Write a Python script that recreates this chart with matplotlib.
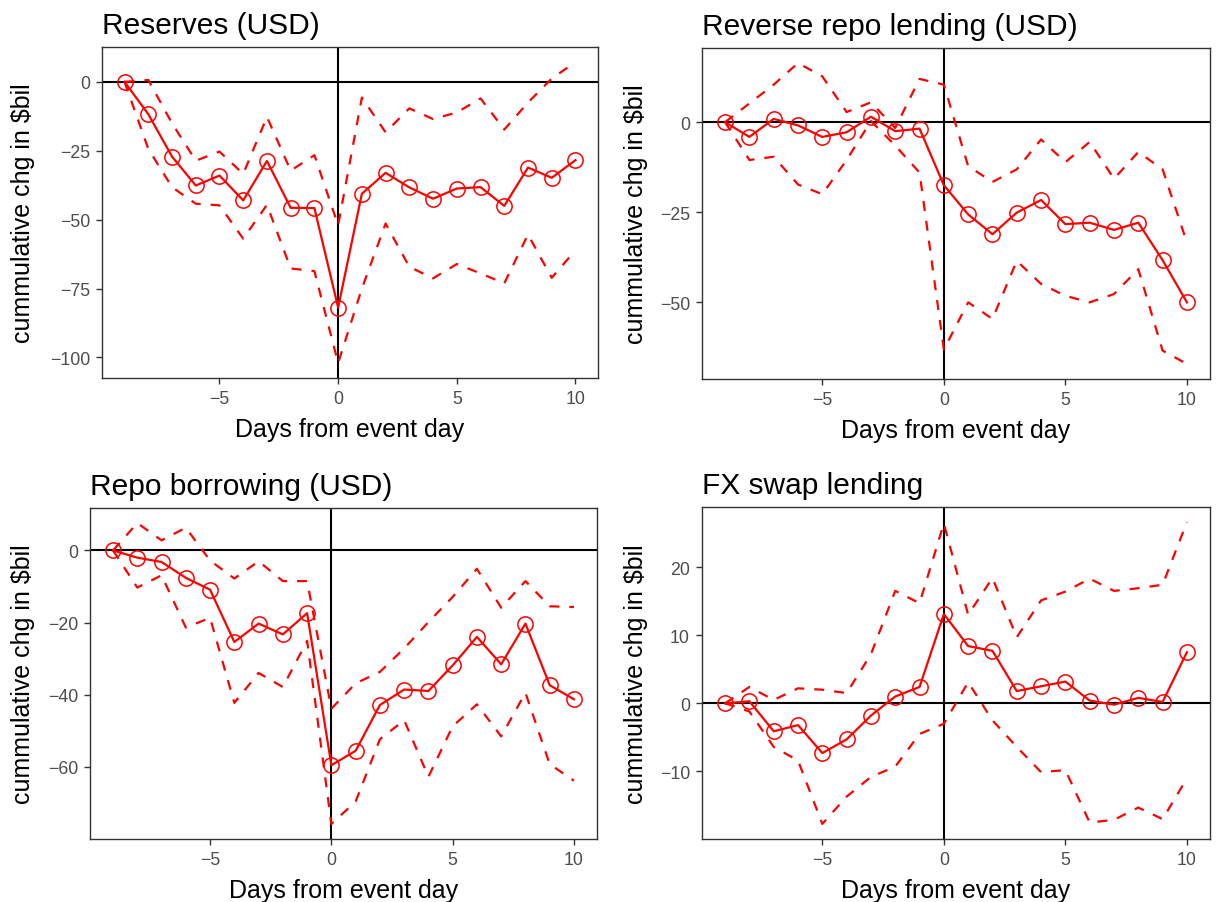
import matplotlib.pyplot as plt
import numpy as np

plt.rcParams['font.family'] = ['Liberation Sans', 'DejaVu Sans']

days = np.arange(-9, 11)

# Reserves (USD)
res_mid = [0, -11.7, -27.1, -37.6, -34.0, -43.0, -28.7, -45.7, -45.8, -81.9,
           -40.6, -33.0, -38.3, -42.4, -38.7, -38.2, -45.0, -31.1, -34.8, -28.4]
res_hi = [0, 0.7, -15.0, -28.6, -25.3, -33.4, -12.7, -32.2, -26.6, -52.0,
          -5.7, -18.3, -9.6, -13.5, -11.1, -6.0, -17.3, -7.5, 1.2, 7.2]
res_lo = [0, -24.3, -38.2, -44.2, -44.8, -56.9, -44.6, -67.7, -68.7, -102.0,
          -75.0, -51.4, -67.1, -71.3, -66.1, -69.5, -73.1, -55.4, -71.1, -61.1]

# Reverse repo lending (USD)
rrp_mid = [0, -4.1, 0.9, -0.9, -4.1, -2.8, 1.5, -2.5, -1.8, -17.5,
           -25.6, -31.1, -25.1, -21.6, -28.3, -27.9, -29.9, -27.9, -38.3, -50.0]
rrp_hi = [0, 5.2, 10.4, 16.4, 12.7, 2.8, 5.5, -1.6, 12.0, 10.4,
          -12.2, -16.6, -13.1, -4.8, -11.1, -5.5, -15.7, -8.3, -13.1, -33.4]
rrp_lo = [0, -10.5, -9.6, -17.3, -20.0, -10.5, 0.3, -6.5, -14.0, -63.1,
          -50.0, -54.6, -38.5, -44.9, -48.2, -50.0, -47.7, -40.8, -63.4, -67.1]

# Repo borrowing (USD)
repo_mid = [0, -2.0, -3.2, -7.6, -10.9, -25.4, -20.3, -23.3, -17.4, -59.6,
            -55.6, -42.9, -38.6, -39.0, -31.9, -24.0, -31.6, -20.3, -37.4, -41.3]
repo_hi = [0, 7.6, 2.8, 6.3, -2.8, -7.8, -3.0, -8.5, -8.5, -43.9,
           -36.9, -33.7, -27.2, -19.9, -12.9, -5.1, -15.9, -8.5, -15.5, -15.7]
repo_lo = [0, -10.3, -6.9, -21.4, -18.7, -42.3, -34.0, -37.9, -25.1, -75.9,
           -69.7, -52.4, -47.1, -62.8, -48.8, -42.7, -51.6, -39.5, -59.3, -63.9]

# FX swap lending
fx_mid = [0, 0.3, -4.1, -3.2, -7.3, -5.3, -1.8, 1.0, 2.4, 13.1,
          8.4, 7.7, 1.8, 2.5, 3.2, 0.4, -0.2, 0.8, 0.2, 7.5]
fx_hi = [0, 2.4, 0.5, 2.2, 2.0, 1.5, 7.2, 16.5, 14.7, 26.4,
         13.0, 18.4, 9.7, 15.1, 16.4, 18.3, 16.5, 16.9, 17.4, 26.6]
fx_lo = [0, -1.2, -6.4, -8.4, -17.7, -13.7, -10.8, -9.3, -4.5, -3.0,
         3.1, -2.5, -6.4, -10.1, -9.8, -17.5, -17.1, -15.3, -17.0, -11.0]

titles = ["Reserves (USD)", "Reverse repo lending (USD)",
          "Repo borrowing (USD)", "FX swap lending"]
series = [(res_mid, res_hi, res_lo), (rrp_mid, rrp_hi, rrp_lo),
          (repo_mid, repo_hi, repo_lo), (fx_mid, fx_hi, fx_lo)]
yticks = [[-100, -75, -50, -25, 0], [-50, -25, 0],
          [-60, -40, -20, 0], [-10, 0, 10, 20]]

W, H = 1217, 903
# panel boxes in pixels: left, right, top, bottom
boxes = [(102, 598, 48, 379), (702, 1210, 49, 380),
         (90, 597, 509, 840), (702, 1210, 508, 840)]
ylab_x = [23, 636, 23, 636]

fig = plt.figure(figsize=(W / 100, H / 100), dpi=100)

for i in range(4):
    l, r, t, b = boxes[i]
    ax = fig.add_axes([l / W, (H - b) / H, (r - l) / W, (b - t) / H])
    mid, hi, lo = series[i]

    ax.axhline(0, color="black", lw=1.5, zorder=1)
    ax.axvline(0, color="black", lw=1.5, zorder=1)
    ax.plot(days, hi, color="red", lw=1.6, dashes=(4.5, 4.5), zorder=2)
    ax.plot(days, lo, color="red", lw=1.6, dashes=(4.5, 4.5), zorder=2)
    ax.plot(days, mid, color="red", lw=1.6, marker="o", ms=11,
            mfc="none", mec="red", mew=1.1, zorder=3)

    allv = np.concatenate([mid, hi, lo])
    span = allv.max() - allv.min()
    ax.set_ylim(allv.min() - 0.05 * span, allv.max() + 0.05 * span)
    ax.set_xlim(-9.95, 10.95)
    ax.set_xticks([-5, 0, 5, 10])
    ax.set_yticks(yticks[i])

    for s in ax.spines.values():
        s.set_color("#333333")
        s.set_linewidth(1.0)
    ax.tick_params(colors="#333333", labelcolor="#4D4D4D", labelsize=12.8,
                   length=4.2, width=1.0, pad=4.5)

    ax.set_xlabel("Days from event day", fontsize=18, labelpad=7)
    ax.set_title(titles[i], loc="left", fontsize=21.5, pad=10)
    fig.text(ylab_x[i] / W, 1 - (t + b) / 2 / H, r"cummulative chg in \$bil",
             rotation=90, ha="center", va="center", fontsize=18)

fig.savefig("out.png", dpi=100)
